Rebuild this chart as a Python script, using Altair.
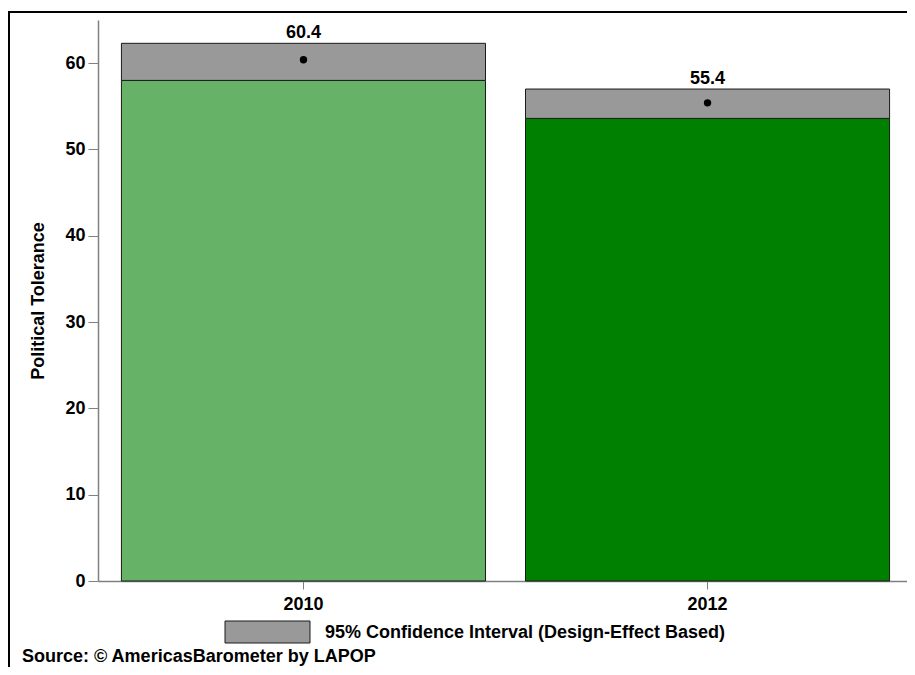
import altair as alt
import pandas as pd

years = ["2010", "2012"]
means = [60.4, 55.4]
lower = [58.0, 53.6]
upper = [62.3, 57.0]
bar_colors = ["#66b266", "#008000"]

legend_label = "95% Confidence Interval (Design-Effect Based)"
source_label = "Source: \u00a9 AmericasBarometer by LAPOP"
y_title = "Political Tolerance"
y_ticks = [0, 10, 20, 30, 40, 50, 60]

df = pd.DataFrame({"year": years, "mean": means, "lower": lower, "upper": upper})
one = pd.DataFrame({"k": [0]})

FONT = "Liberation Sans"
W, H = 809, 561

xenc = alt.X(
    "year:N",
    scale=alt.Scale(range=[0, 815], paddingInner=0.099, paddingOuter=0.058),
    axis=alt.Axis(title=None, labelAngle=0, labelFontSize=18, labelFontWeight="bold",
                  labelFont=FONT, labelColor="black", domainColor="#808080",
                  tickColor="#808080", tickSize=8, labelPadding=6, domainWidth=1.5),
)
yscale = alt.Scale(domain=[0, 65], nice=False, zero=True)
yaxis = alt.Axis(values=y_ticks, title=y_title, titleFontSize=18, titleFont=FONT,
                 titleFontWeight="bold", titleColor="black", titlePadding=17,
                 labelFontSize=18, labelFontWeight="bold", labelFont=FONT,
                 labelColor="black", domainColor="#808080", tickColor="#808080",
                 tickSize=10, labelPadding=3, grid=False, domainWidth=1.5)

base = alt.Chart(df)

green = base.mark_bar(stroke="#1a1a1a", strokeWidth=1).encode(
    x=xenc,
    y=alt.Y("lower:Q", scale=yscale, axis=yaxis),
    y2=alt.datum(0),
    color=alt.Color("year:N", scale=alt.Scale(domain=years, range=bar_colors), legend=None),
)
grey = base.mark_bar(color="#999999", stroke="#1a1a1a", strokeWidth=1).encode(
    x=alt.X("year:N"),
    y=alt.Y("lower:Q"),
    y2="upper:Q",
)
dots = base.mark_point(filled=True, color="black", size=55, opacity=1).encode(
    x=alt.X("year:N"),
    y=alt.Y("mean:Q"),
)
labels = base.mark_text(font=FONT, fontSize=18, fontWeight="bold", color="black",
                        baseline="alphabetic", dy=-5).encode(
    x=alt.X("year:N"),
    y=alt.Y("upper:Q"),
    text=alt.Text("mean:Q", format=".1f"),
)

leg_rect = alt.Chart(one).mark_rect(color="#999999", stroke="#1a1a1a", strokeWidth=1).encode(
    x=alt.value(127), x2=alt.value(212), y=alt.value(601), y2=alt.value(623)
)
leg_text = alt.Chart(one).mark_text(font=FONT, fontSize=18, fontWeight="bold", color="black",
                                    align="left", baseline="middle").encode(
    x=alt.value(227), y=alt.value(613), text=alt.value(legend_label)
)
src_text = alt.Chart(one).mark_text(font=FONT, fontSize=18, fontWeight="bold", color="black",
                                    align="left", baseline="middle").encode(
    x=alt.value(-76), y=alt.value(637), text=alt.value(source_label)
)
frame_top = alt.Chart(one).mark_rule(color="black", strokeWidth=2).encode(
    x=alt.value(-90), x2=alt.value(W), y=alt.value(-8)
)
frame_left = alt.Chart(one).mark_rule(color="black", strokeWidth=2).encode(
    x=alt.value(-89), y=alt.value(-9), y2=alt.value(H + 86)
)

chart = alt.layer(green, grey, dots, labels, leg_rect, leg_text, src_text, frame_top, frame_left).properties(
    width=W, height=H,
    autosize=alt.AutoSizeParams(type="none"),
    padding={"left": 90, "top": 12, "right": 0, "bottom": 86},
    background="white",
).configure_view(stroke=None)

chart.save("out.html", embed_options={"renderer": "svg", "actions": False})
